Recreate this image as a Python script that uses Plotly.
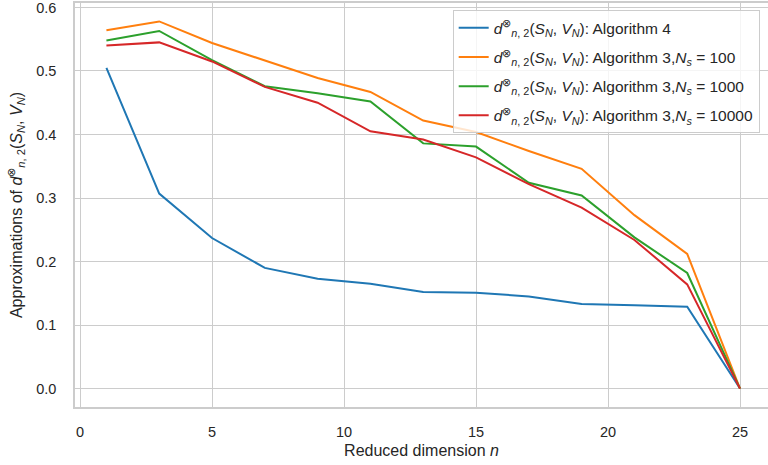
import plotly.graph_objects as go

# Reduced dimensions n
n_values = [1, 3, 5, 7, 9, 11, 13, 15, 17, 19, 21, 23, 25]

# Approximations of d_{n,2}^⊗(S_N, V_N)
alg4 = [0.505, 0.307, 0.237, 0.190, 0.173, 0.165, 0.152, 0.151, 0.145, 0.133, 0.131, 0.129, 0.0]
alg3_ns100 = [0.564, 0.578, 0.544, 0.516, 0.489, 0.467, 0.422, 0.404, 0.374, 0.346, 0.273, 0.212, 0.0]
alg3_ns1000 = [0.548, 0.563, 0.517, 0.476, 0.465, 0.452, 0.386, 0.381, 0.324, 0.304, 0.238, 0.182, 0.0]
alg3_ns10000 = [0.540, 0.545, 0.515, 0.475, 0.450, 0.405, 0.392, 0.364, 0.322, 0.285, 0.234, 0.164, 0.0]

series_names = [
    "Algorithm 4",
    "Algorithm 3,<i>N</i><sub><i>s</i></sub> = 100",
    "Algorithm 3,<i>N</i><sub><i>s</i></sub> = 1000",
    "Algorithm 3,<i>N</i><sub><i>s</i></sub> = 10000",
]
colors = ["#1f77b4", "#ff7f0e", "#2ca02c", "#d62728"]

d_sym = "<i>d</i><sup>⊗</sup><sub><i>n</i>, 2</sub>(<i>S</i><sub><i>N</i></sub>, <i>V</i><sub><i>N</i></sub>)"

x_ticks = [0, 5, 10, 15, 20, 25]
y_ticks = [0.0, 0.1, 0.2, 0.3, 0.4, 0.5, 0.6]

fig = go.Figure()
for i, (ys, name, c) in enumerate(zip([alg4, alg3_ns100, alg3_ns1000, alg3_ns10000], series_names, colors)):
    fig.add_trace(go.Scatter(
        x=n_values, y=ys, mode="lines",
        name=f"{d_sym}: {name}",
        legendgroup=f"g{i}",
        line=dict(color=c, width=2),
    ))

text_color = "#262626"
grid_color = "#cccccc"
font_family = "Liberation Sans, Arial, sans-serif"

fig.update_layout(
    width=768, height=465,
    margin=dict(l=75, r=0, t=1, b=58),
    paper_bgcolor="white",
    plot_bgcolor="white",
    font=dict(family=font_family, size=15, color=text_color),
    showlegend=True,
    legend=dict(
        x=0.545, y=0.982, xanchor="left", yanchor="top",
        bgcolor="rgba(255,255,255,0.8)",
        bordercolor=grid_color, borderwidth=1,
        font=dict(family=font_family, size=15.5, color=text_color),
        tracegroupgap=6,
        itemwidth=30,
    ),
    xaxis=dict(
        range=[-0.19, 26.06],
        tickvals=x_ticks,
        tickfont=dict(size=14.5),
        showgrid=True, gridcolor=grid_color, gridwidth=1,
        zeroline=False,
        showline=True, linecolor=grid_color, linewidth=1.5, mirror=True,
        ticks="", ticklabelstandoff=11,
        title=dict(text="Reduced dimension <i>n</i>", standoff=6, font=dict(size=16)),
    ),
    yaxis=dict(
        range=[-0.029, 0.607],
        tickvals=y_ticks,
        tickformat=".1f",
        tickfont=dict(size=14.5),
        ticklabeloverflow="allow",
        showgrid=True, gridcolor=grid_color, gridwidth=1,
        zeroline=False,
        showline=True, linecolor=grid_color, linewidth=1.5,
        ticks="", ticklabelstandoff=14,
        title=dict(text=f"Approximations of {d_sym}", standoff=10, font=dict(size=16)),
    ),
)

fig.write_html("out.html")
